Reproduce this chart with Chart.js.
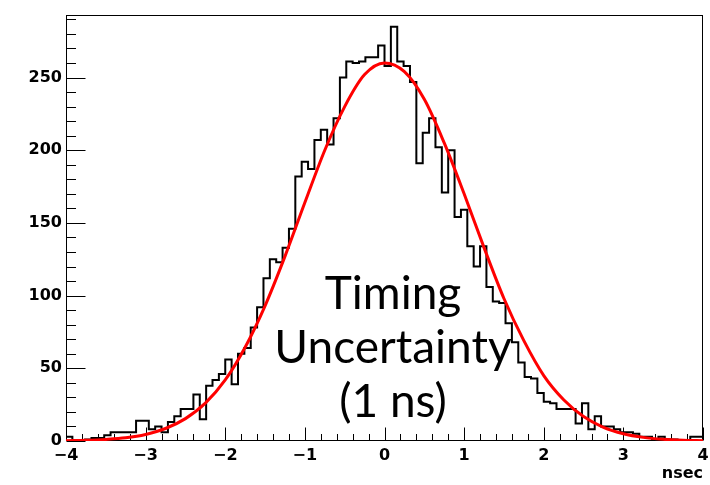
<!DOCTYPE html>
<html>
<head>
<meta charset="utf-8">
<script src="https://cdn.jsdelivr.net/npm/chart.js@4.4.0/dist/chart.umd.min.js"></script>
<style>
html,body{margin:0;padding:0;background:#fff;}
#wrap{width:710px;height:485px;}
</style>
</head>
<body>
<div id="wrap"><canvas id="c" width="710" height="485"></canvas></div>
<script>
// ---- data ----
const binLow = -4;
const binWidth = 0.08;
const counts = [
  0, 3, 0, 0, 1, 2, 2, 4, 6, 6,
  6, 6, 14, 14, 8, 10, 6, 13, 17, 22,
  22, 32, 15, 38, 42, 46, 56, 39, 60, 64,
  78, 92, 112, 125, 123, 133, 146, 182, 192, 187,
  207, 214, 204, 222, 250, 261, 260, 261, 264, 264,
  272, 258, 285, 261, 258, 247, 191, 212, 222, 202,
  171, 200, 154, 159, 134, 120, 134, 106, 96, 95,
  81, 68, 54, 44, 43, 33, 27, 26, 22, 22,
  22, 12, 26, 8, 17, 10, 10, 8, 6, 6,
  5, 3, 3, 1, 3, 1, 1, 0, 0, 3
];
const fitX = [-4, -3.75, -3.5, -3.25, -3, -2.75, -2.5, -2.25, -2, -1.75, -1.5, -1.25, -1, -0.75, -0.5, -0.25,
              0, 0.25, 0.5, 0.75, 1, 1.25, 1.5, 1.75, 2, 2.25, 2.5, 2.75, 3, 3.25, 3.5, 3.75, 4];
const fitY = [0.2, 0.5, 1.1, 2.2, 4.5, 8.6, 15.4, 26, 42, 64.5, 93, 127, 164, 200, 230, 252,
              260, 254, 235, 205, 170, 133, 98, 69, 45, 28.4, 16.8, 9.4, 5.0, 2.5, 1.2, 0.5, 0.2];
const xTickValues = [-4, -3, -2, -1, 0, 1, 2, 3, 4];
const yTickValues = [0, 50, 100, 150, 200, 250];
const xTitle = 'nsec';
const noteLines = ['Timing', 'Uncertainty', '(1 ns)'];

// ---- datasets built from the arrays ----
const histPts = counts.map((c, i) => ({x: binLow + i * binWidth, y: c}));
histPts.push({x: binLow + counts.length * binWidth, y: counts[counts.length - 1]});
const fitPts = fitX.map((x, i) => ({x: x, y: fitY[i]}));

const labelFont = {family: 'DejaVu Sans', weight: 'bold', size: 16};

const framePlugin = {
  id: 'frame',
  beforeDatasetsDraw(chart) {
    const {ctx, chartArea: a, scales: {x, y}} = chart;
    ctx.save();
    ctx.strokeStyle = '#000';
    ctx.lineWidth = 1;
    const L = Math.round(a.left) + 0.5, R = Math.round(a.right) - 0.5;
    const T = Math.round(a.top) + 0.5, B = Math.round(a.bottom) - 0.5;
    ctx.strokeRect(L, T, R - L, B - T);
    ctx.beginPath();
    for (let k = 0; k <= 40; k++) {
      const v = -4 + k * 0.2;
      const px = Math.round(x.getPixelForValue(v)) + 0.5;
      const len = (k % 5 === 0) ? 13 : 6.5;
      ctx.moveTo(px, B);
      ctx.lineTo(px, B - len);
    }
    for (let v = 0; v <= 290; v += 10) {
      const py = Math.round(y.getPixelForValue(v)) + 0.5;
      const len = (v % 50 === 0) ? 19 : 9.5;
      ctx.moveTo(L, py);
      ctx.lineTo(L + len, py);
    }
    ctx.stroke();
    ctx.restore();
  }
};

const notePlugin = {
  id: 'note',
  afterDatasetsDraw(chart) {
    const ctx = chart.ctx;
    ctx.save();
    ctx.fillStyle = '#000';
    ctx.font = '46px Lato';
    ctx.textAlign = 'center';
    ctx.textBaseline = 'alphabetic';
    const baselines = [309, 363, 417];
    noteLines.forEach((t, i) => ctx.fillText(t, 393, baselines[i]));
    ctx.restore();
  }
};

new Chart(document.getElementById('c'), {
  type: 'line',
  data: {
    datasets: [
      {label: 'fit', data: fitPts, borderColor: '#ff0000', borderWidth: 3, pointRadius: 0,
       cubicInterpolationMode: 'monotone', fill: false, order: 0},
      {label: 'hist', data: histPts, borderColor: '#000000', borderWidth: 2, pointRadius: 0,
       stepped: 'after', fill: false, order: 1}
    ]
  },
  options: {
    responsive: false,
    animation: false,
    events: [],
    plugins: {legend: {display: false}, tooltip: {enabled: false}},
    layout: {padding: {top: 15, right: 7, left: 0, bottom: 0}},
    scales: {
      x: {
        type: 'linear', min: -4, max: 4,
        grid: {display: false, drawTicks: false},
        border: {display: false},
        afterBuildTicks: s => { s.ticks = xTickValues.map(v => ({value: v})); },
        afterFit: s => { s.height = 44; s.paddingLeft = 0; s.paddingRight = 0; },
        ticks: {padding: 5, color: '#000', font: labelFont, maxRotation: 0, autoSkip: false,
                callback: v => String(v).replace('-', '\u2212')},
        title: {display: true, text: xTitle, align: 'end', color: '#000', font: labelFont,
                padding: {top: 0, bottom: 2}}
      },
      y: {
        type: 'linear', min: 0, max: 293,
        grid: {display: false, drawTicks: false},
        border: {display: false},
        afterBuildTicks: s => { s.ticks = yTickValues.map(v => ({value: v})); },
        afterFit: s => { s.width = 66; s.paddingTop = 0; s.paddingBottom = 0; },
        ticks: {padding: 4, color: '#000', font: labelFont}
      }
    }
  },
  plugins: [framePlugin, notePlugin]
});
</script>
</body>
</html>
